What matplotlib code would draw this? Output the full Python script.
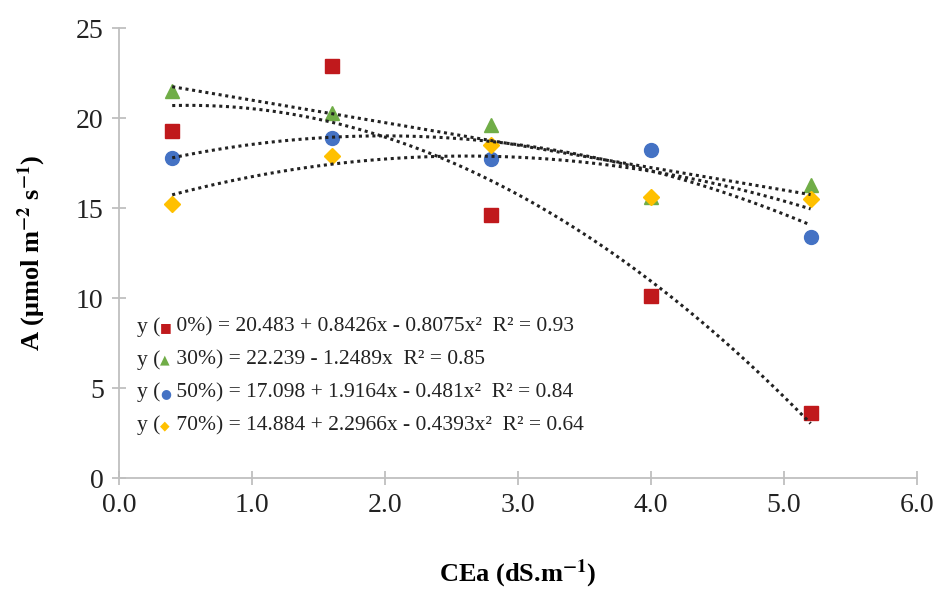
import matplotlib.pyplot as plt
import numpy as np

# salinity levels (dS/m)
cea = [0.4, 1.6, 2.8, 4.0, 5.2]

a_0 = [19.3, 22.9, 14.6, 10.1, 3.6]
a_30 = [21.5, 20.3, 19.6, 15.6, 16.3]
a_50 = [17.8, 18.9, 17.7, 18.2, 13.4]
a_70 = [15.2, 17.9, 18.5, 15.6, 15.5]

# fitted coefficients (c0, c1, c2) from the equations
fit_0 = [20.483, 0.8426, -0.8075]
fit_30 = [22.239, -1.2489, 0.0]
fit_50 = [17.098, 1.9164, -0.481]
fit_70 = [14.884, 2.2966, -0.4393]

eq_labels = [
    "0%) = 20.483 + 0.8426x - 0.8075x²  R² = 0.93",
    "30%) = 22.239 - 1.2489x  R² = 0.85",
    "50%) = 17.098 + 1.9164x - 0.481x²  R² = 0.84",
    "70%) = 14.884 + 2.2966x - 0.4393x²  R² = 0.64",
]

plt.rcParams['font.family'] = ['Liberation Serif', 'DejaVu Serif']
plt.rcParams['mathtext.fontset'] = 'stix'

series = [
    (a_0, fit_0, 's', '#C0191C', 9.5, '■'),
    (a_30, fit_30, '^', '#70AD47', 10.5, '▲'),
    (a_50, fit_50, 'o', '#4472C4', 10, '●'),
    (a_70, fit_70, 'D', '#FFC000', 8, '◆'),
]

fig = plt.figure(figsize=(9.38, 5.97), dpi=100)
ax = fig.add_axes([119 / 938, 1 - 478 / 597, (917 - 119) / 938, (478 - 28) / 597])

xs = np.linspace(min(cea), max(cea), 100)
for vals, fit, mk, col, ms, sym in series:
    ax.plot(cea, vals, linestyle='none', marker=mk, color=col, markersize=ms, zorder=2)
    ys = fit[0] + fit[1] * xs + fit[2] * xs ** 2
    ax.plot(xs, ys, color='#222222', linestyle=(0, (1, 1.2)), linewidth=2.2, zorder=3)

ax.set_xlim(0, 6)
ax.set_ylim(0, 25)
ax.set_xticks(np.arange(0, 6.1, 1.0))
ax.set_xticklabels([f"{v:.1f}" for v in np.arange(0, 6.1, 1.0)])
ax.set_yticks(range(0, 26, 5))

for s in ['top', 'right']:
    ax.spines[s].set_visible(False)
for s in ['left', 'bottom']:
    ax.spines[s].set_color('#BFBFBF')
    ax.spines[s].set_linewidth(1.3)
ax.tick_params(direction='inout', length=10, width=1.3, color='#BFBFBF',
               labelsize=20, labelcolor='#222222', pad=6)

ax.set_xlabel('CEa (dS.m$^{\\mathbf{-1}}$)', fontsize=19, fontweight='bold', labelpad=28)
ax.set_ylabel('A (μmol m$^{\\mathbf{-2}}$ s$^{\\mathbf{-1}}$)', fontsize=19, fontweight='bold', labelpad=20)

# equations block
y0 = 0.325
for i, (lab, (vals, fit, mk, col, ms, sym)) in enumerate(zip(eq_labels, series)):
    yy = y0 - i * 0.073
    t1 = ax.text(0.022, yy, 'y (', transform=ax.transAxes, fontsize=15.5,
                 va='baseline', color='#222222')
    ax.annotate(sym, xy=(1, 0), xycoords=t1, fontsize=9, color=col,
                va='bottom', family=['DejaVu Sans'], xytext=(0, 2),
                textcoords='offset points')
    ax.annotate(' ' + lab, xy=(1, 0), xycoords=t1, xytext=(8, 0),
                textcoords='offset points', fontsize=15.5, va='bottom', color='#222222')

fig.savefig('out.png', dpi=100)
